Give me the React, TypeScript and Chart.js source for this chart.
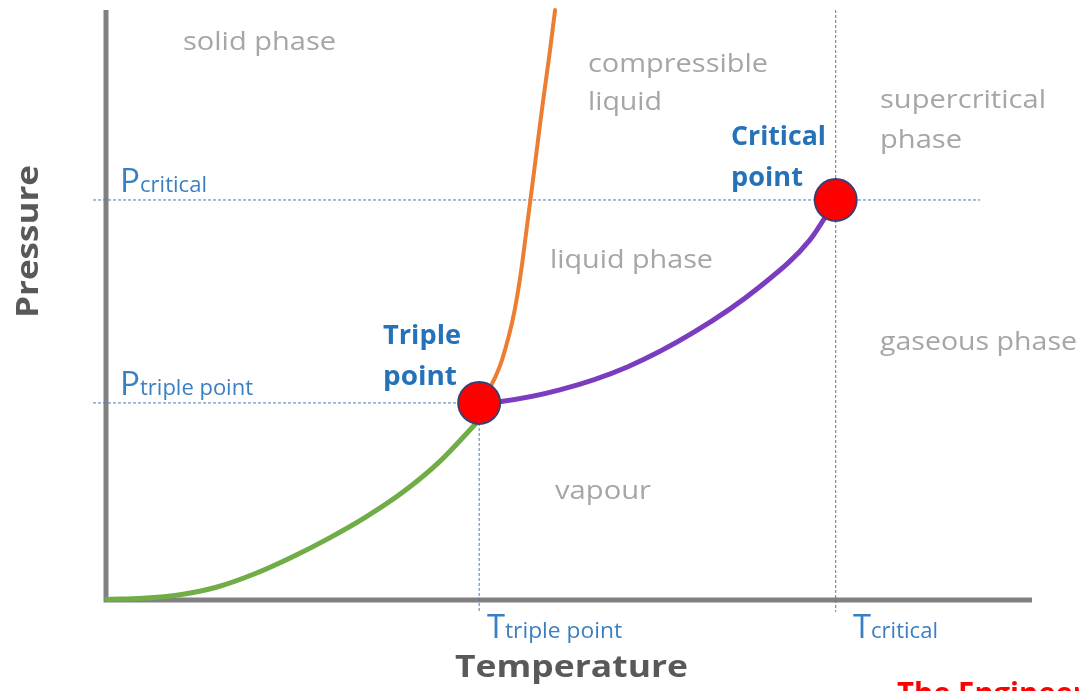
import React, { useEffect, useRef } from "react";
import { Chart, registerables } from "chart.js";

Chart.register(...registerables);

// Axis ranges (arbitrary units)
const T_RANGE = [0, 100];
const P_RANGE = [0, 100];

// Key points
const triplePoint = { t: 40.3, p: 33.4 };
const criticalPoint = { t: 78.8, p: 67.8 };

// Sublimation curve (solid <-> vapour)
const sublimationT = [0.1, 4, 8, 12, 16, 20, 24, 28, 32, 36, 40.0];
const sublimationP = [0.1, 0.3, 0.9, 2.2, 4.4, 7.2, 10.4, 14.0, 18.2, 23.4, 30.0];

// Vaporisation curve (liquid <-> vapour)
const vaporT = [40.3, 42.5, 49.0, 56.3, 63.4, 70.6, 76.0, 78.8];
const vaporP = [33.4, 33.6, 35.6, 39.5, 45.3, 53.1, 61.0, 67.8];

// Melting curve (solid <-> liquid)
const meltT = [40.3, 41.5, 42.5, 43.2, 43.85, 44.35, 44.85, 45.35, 45.85, 46.5, 47.15, 47.85, 48.5];
const meltP = [33.4, 36.1, 39.5, 43.0, 47.0, 51.0, 56.0, 62.0, 68.0, 76.0, 84.0, 92.0, 100];

// Reference line extents
const refLeftT = -1.4;
const refRightT = 94.4;
const refBottomP = -2.0;

const regionLabels = [
  { text: "solid phase", x: 183, y: 50, w: 153 },
  { text: "compressible", x: 588, y: 72, w: 180 },
  { text: "liquid", x: 588, y: 110, w: 74 },
  { text: "supercritical", x: 880, y: 108, w: 166 },
  { text: "phase", x: 880, y: 148, w: 82 },
  { text: "liquid phase", x: 550, y: 268, w: 163 },
  { text: "gaseous phase", x: 880, y: 350, w: 197 },
  { text: "vapour", x: 555, y: 499, w: 96 },
];

const pointLabels = [
  { text: "Triple", x: 383, y: 344, w: 78 },
  { text: "point", x: 383, y: 385, w: 74 },
  { text: "Critical", x: 731, y: 145, w: 95 },
  { text: "point", x: 731, y: 186, w: 72 },
];

const subLabels = [
  { main: "P", sub: "critical", x: 120, y: 192, mw: 20, sw: 67 },
  { main: "P", sub: "triple point", x: 120, y: 395, mw: 20, sw: 113 },
  { main: "T", sub: "triple point", x: 487, y: 638, mw: 18, sw: 117 },
  { main: "T", sub: "critical", x: 853, y: 638, mw: 18, sw: 67 },
];

const xTitle = "Temperature";
const yTitle = "Pressure";
const footer = "The Engineering Mindset";

const FONT = '"Open Sans", "Noto Sans", sans-serif';

function fitText(ctx: CanvasRenderingContext2D, text: string, x: number, y: number, w: number) {
  const m = ctx.measureText(text).width;
  const sx = w / m;
  ctx.save();
  ctx.translate(x, y);
  ctx.scale(sx, 1);
  ctx.fillText(text, 0, 0);
  ctx.restore();
}

const overlayPlugin = {
  id: "overlay",
  beforeDatasetsDraw(chart: any) {
    const { ctx, chartArea } = chart;
    ctx.save();
    ctx.strokeStyle = "#808080";
    ctx.lineWidth = 5;
    ctx.lineCap = "butt";
    ctx.beginPath();
    ctx.moveTo(chartArea.left, chartArea.top);
    ctx.lineTo(chartArea.left, chartArea.bottom + 2.5);
    ctx.moveTo(chartArea.left - 2.5, chartArea.bottom);
    ctx.lineTo(chartArea.right, chartArea.bottom);
    ctx.stroke();
    ctx.restore();
  },
  afterDraw(chart: any) {
    const { ctx } = chart;
    ctx.save();
    ctx.textBaseline = "alphabetic";
    ctx.textAlign = "left";

    ctx.fillStyle = "#a6a6a6";
    ctx.font = `26px ${FONT}`;
    regionLabels.forEach((l) => fitText(ctx, l.text, l.x, l.y, l.w));

    ctx.fillStyle = "#2672b8";
    ctx.font = `bold 27px ${FONT}`;
    pointLabels.forEach((l) => fitText(ctx, l.text, l.x, l.y, l.w));

    ctx.fillStyle = "#3a7fc1";
    subLabels.forEach((l) => {
      ctx.font = `33px ${FONT}`;
      fitText(ctx, l.main, l.x, l.y, l.mw);
      ctx.font = `22px ${FONT}`;
      fitText(ctx, l.sub, l.x + l.mw, l.y, l.sw);
    });

    ctx.fillStyle = "#595959";
    ctx.font = `bold 31px ${FONT}`;
    fitText(ctx, xTitle, 455, 677, 233);
    ctx.save();
    ctx.translate(38, 318);
    ctx.rotate(-Math.PI / 2);
    fitText(ctx, yTitle, 0, 0, 153);
    ctx.restore();

    ctx.fillStyle = "#ff0000";
    ctx.font = `bold 30px ${FONT}`;
    fitText(ctx, footer, 897, 704, 360);
    ctx.restore();
  },
};

function toXY(ts: number[], ps: number[]) {
  return ts.map((t, i) => ({ x: t, y: ps[i] }));
}

export default function App() {
  const ref = useRef<HTMLCanvasElement | null>(null);

  useEffect(() => {
    if (!ref.current) return;
    const dashed = {
      borderColor: "#4a78c0",
      borderWidth: 1,
      borderDash: [3, 2],
      pointRadius: 0,
      tension: 0,
      clip: false as any,
      order: 3,
    };
    const curve = {
      pointRadius: 0,
      clip: false as any,
      order: 1,
      borderCapStyle: "round",
    };
    const chart = new Chart(ref.current, {
      type: "line",
      data: {
        datasets: [
          {
            label: "points",
            data: [
              { x: triplePoint.t, y: triplePoint.p },
              { x: criticalPoint.t, y: criticalPoint.p },
            ],
            showLine: false,
            pointRadius: 21,
            pointBackgroundColor: "#ff0000",
            pointBorderColor: "#3b3f74",
            pointBorderWidth: 2,
            clip: false as any,
            order: 0,
          },
          {
            label: "sublimation",
            data: toXY(sublimationT, sublimationP),
            borderColor: "#70ad47",
            borderWidth: 5,
            cubicInterpolationMode: "monotone",
            ...curve,
          },
          {
            label: "vaporisation",
            data: toXY(vaporT, vaporP),
            borderColor: "#7a3dbf",
            borderWidth: 5,
            cubicInterpolationMode: "monotone",
            ...curve,
          },
          {
            label: "melting",
            data: toXY(meltT, meltP),
            borderColor: "#ed7d31",
            borderWidth: 4,
            tension: 0.4,
            ...curve,
          },
          {
            label: "Pcrit",
            data: [
              { x: refLeftT, y: criticalPoint.p },
              { x: refRightT, y: criticalPoint.p },
            ],
            ...dashed,
          },
          {
            label: "Ptriple",
            data: [
              { x: refLeftT, y: triplePoint.p },
              { x: triplePoint.t, y: triplePoint.p },
            ],
            ...dashed,
          },
          {
            label: "Ttriple",
            data: [
              { x: triplePoint.t, y: triplePoint.p },
              { x: triplePoint.t, y: refBottomP },
            ],
            ...dashed,
          },
          {
            label: "Tcrit",
            data: [
              { x: criticalPoint.t, y: P_RANGE[1] },
              { x: criticalPoint.t, y: refBottomP },
            ],
            ...dashed,
          },
        ] as any,
      },
      options: {
        responsive: false,
        animation: false,
        layout: { autoPadding: false, padding: { left: 106, top: 10, right: 47, bottom: 91 } },
        plugins: { legend: { display: false }, tooltip: { enabled: false } },
        events: [],
        scales: {
          x: { type: "linear", min: T_RANGE[0], max: T_RANGE[1], display: false },
          y: { type: "linear", min: P_RANGE[0], max: P_RANGE[1], display: false },
        },
      } as any,
      plugins: [overlayPlugin],
    });
    return () => chart.destroy();
  }, []);

  return (
    <div style={{ position: "fixed", left: 0, top: 0, width: 1079, height: 691, background: "#fff" }}>
      <canvas ref={ref} width={1079} height={691} style={{ display: "block" }} />
    </div>
  );
}
